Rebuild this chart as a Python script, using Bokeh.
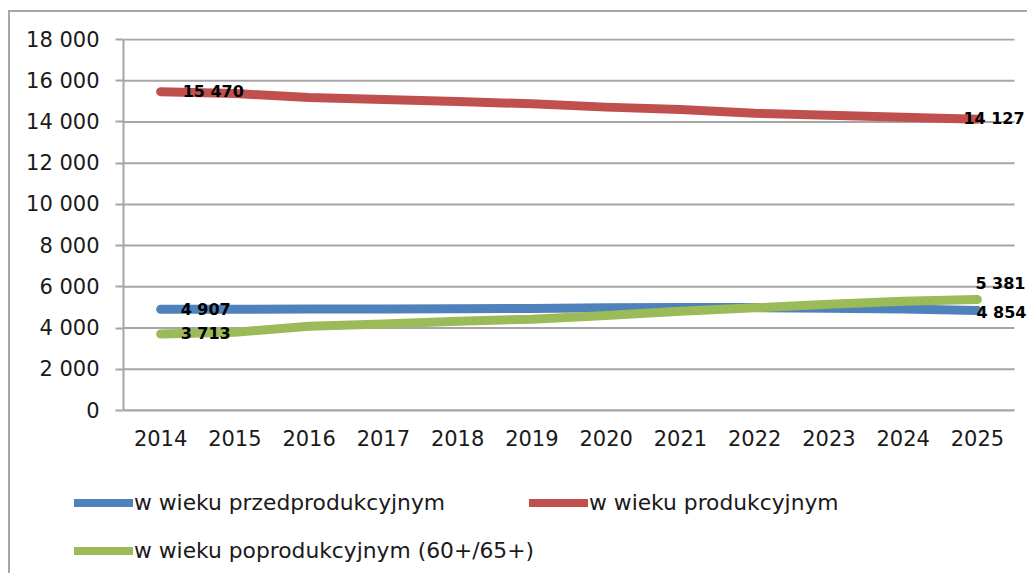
from bokeh.plotting import figure
from bokeh.layouts import column, row
from bokeh.models import (ColumnDataSource, Range1d, FixedTicker, CustomJSTickFormatter,
                          Legend, LegendItem, LabelSet)
from bokeh.core.properties import value
from bokeh.embed import file_html
from bokeh.resources import INLINE

years = list(range(2014, 2026))
przed = [4907, 4910, 4920, 4930, 4940, 4955, 4985, 5000, 4995, 4960, 4920, 4854]
prod = [15470, 15380, 15190, 15090, 14990, 14880, 14720, 14600, 14420, 14330, 14230, 14127]
popro = [3713, 3800, 4090, 4200, 4330, 4430, 4610, 4820, 4980, 5150, 5300, 5381]
names = ["w wieku przedprodukcyjnym", "w wieku produkcyjnym", "w wieku poprodukcyjnym (60+/65+)"]
colors = ["#4F81BD", "#C0504D", "#9BBB59"]
y_ticks = list(range(0, 18001, 2000))

FONT = "DejaVu Sans"
GRID = "#a6a6a6"
TXT = "#1a1a1a"
W = 1027
H1, H2 = 470, 103

x0, x1 = years[0] - 0.5, years[-1] + 0.5

p = figure(width=W, height=H1, x_range=Range1d(x0, x0 + 12.175),
           y_range=Range1d(0, 18050), output_backend="svg", toolbar_location=None,
           min_border=0)
p.min_border_left = 123
p.min_border_right = 0
p.min_border_top = 38
p.min_border_bottom = H1 - 410
p.outline_line_color = None
p.border_fill_color = None
p.grid.grid_line_color = None

# horizontal gridlines limited to the category span
p.segment(x0=[x0] * len(y_ticks), x1=[x1] * len(y_ticks), y0=y_ticks, y1=y_ticks,
          line_color=GRID, line_width=2, level="underlay")

p.yaxis.ticker = FixedTicker(ticks=y_ticks)
p.yaxis.bounds = (0, 18000)
p.yaxis.formatter = CustomJSTickFormatter(
    code="return tick.toFixed(0).replace(/\\B(?=(\\d{3})+(?!\\d))/g, ' ');")
p.xaxis.ticker = FixedTicker(ticks=years)
p.xaxis.bounds = (x0, x1)
p.xaxis.formatter = CustomJSTickFormatter(code="return tick.toFixed(0);")

for ax in (p.xaxis[0], p.yaxis[0]):
    ax.axis_line_color = GRID
    ax.axis_line_width = 2
    ax.major_tick_line_color = GRID
    ax.major_tick_line_width = 2
    ax.minor_tick_line_color = None
    ax.major_label_text_font = FONT
    ax.major_label_text_font_size = "21px"
    ax.major_label_text_color = TXT
p.yaxis.major_tick_out = 8
p.yaxis.major_tick_in = 0
p.yaxis.major_label_standoff = 16
p.xaxis.major_tick_out = 0
p.xaxis.major_tick_in = 0
p.xaxis.major_label_standoff = 19

series = [przed, prod, popro]
for vals, col in zip(series, colors):
    p.line(years, vals, line_color=col, line_width=9, line_cap="round", line_join="round")

# data labels at first and last points
lab_x, lab_y, lab_t, xo, yo = [], [], [], [], []
offsets = [((20, 0), (-1, -2)), ((22, 0), (-14, 1)), ((20, 0), (-2, 16))]
for vals, (first_off, last_off) in zip(series, offsets):
    for idx, off in ((0, first_off), (len(years) - 1, last_off)):
        lab_x.append(years[idx])
        lab_y.append(vals[idx])
        lab_t.append(f"{vals[idx]:,}".replace(",", " "))
        xo.append(off[0])
        yo.append(off[1])
src = ColumnDataSource(dict(x=lab_x, y=lab_y, t=lab_t, xo=xo, yo=yo))
labels = LabelSet(x="x", y="y", text="t", source=src, x_offset="xo", y_offset="yo",
                  text_font=value(FONT), text_font_size="16px", text_font_style="bold",
                  text_color="black", text_baseline="middle", text_align="left")
p.add_layout(labels)

# legend panel as its own small figure below the chart
lf = figure(width=W, height=H2, x_range=Range1d(0, 1), y_range=Range1d(0, 1),
            x_axis_type=None, y_axis_type=None, output_backend="svg",
            toolbar_location=None, min_border=0)
lf.outline_line_color = None
lf.border_fill_color = None
lf.background_fill_color = None
lf.grid.grid_line_color = None
# legend keys (their data lies outside the visible range; only the keys show)
lrs = [lf.line([-3, -2], [-3, -3], line_color=c, line_width=8, line_cap="round")
       for c in colors]

common = dict(border_line_color=None, background_fill_alpha=0, padding=0, margin=0,
              glyph_width=59, glyph_height=25, label_standoff=1, label_height=25,
              label_text_font=FONT, label_text_font_size="21.8px", label_text_color=TXT)
leg1 = Legend(items=[LegendItem(label=names[0], renderers=[lrs[0]]),
                     LegendItem(label=names[1], renderers=[lrs[1]])],
              orientation="horizontal", location=(74, 58.5), spacing=84, **common)
leg2 = Legend(items=[LegendItem(label=names[2], renderers=[lrs[2]])],
              orientation="horizontal", location=(74, 10.5), **common)
lf.add_layout(leg1, "center")
lf.add_layout(leg2, "center")

# outer chart frame: only its top and left edges fall inside the reference view
layout = column(p, row(lf), spacing=0,
                styles={"background-color": "white",
                        "box-shadow": "inset 8px 10px 0 0 white, inset 10px 12px 0 0 #a6a6a6"})
open("out.html", "w").write(file_html(layout, INLINE))
